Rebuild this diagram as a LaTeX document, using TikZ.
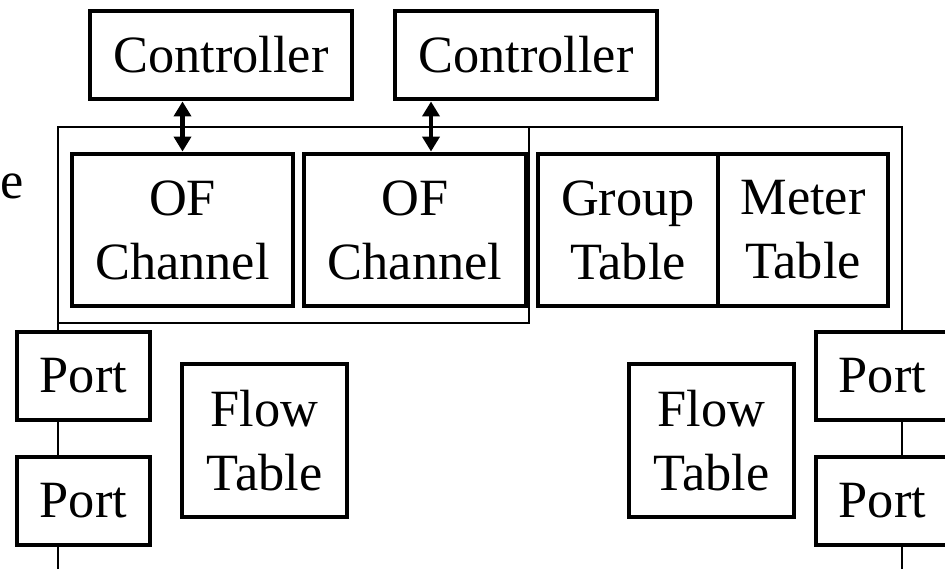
\documentclass[tikz,border=0pt]{standalone}
\usepackage{fontspec}
\setmainfont{Liberation Serif}
\usetikzlibrary{calc, arrows.meta}
\tikzset{unit/.style={draw, line width=2.8pt, fill=white, align=center, inner sep=0pt, font=\fontsize{29.8}{36.4}\selectfont},
frame/.style={line width=0.7pt},
link/.style={{Triangle[width=0.34cm,length=0.3cm]}-{Triangle[width=0.34cm,length=0.3cm]}, line width=2.8pt}}

\begin{document}
\begin{tikzpicture}[x=0.02cm, y=-0.02cm]
        \useasboundingbox (0,0) rectangle (945,569);
        % switch outline
        \draw[frame] (58,569) -- (58,127) -- (902,127) -- (902,569);
        \draw[frame] (58,127) rectangle (529,323);
        \node[anchor=base west, inner sep=0pt, font=\fontsize{29.8}{36.4}\selectfont] (sw) at (0,198) {e};
        % controllers
        \node[unit, minimum width=5.24cm, minimum height=1.76cm] (ctrl1) at (221,55) {Controller};
        \node[unit, minimum width=5.24cm, minimum height=1.76cm] (ctrl2) at (526,55) {Controller};
        % channels and tables
        \node[unit, minimum width=4.42cm, minimum height=3.04cm] (of1) at (182.5,230) {OF\\Channel};
        \node[unit, minimum width=4.44cm, minimum height=3.04cm] (of2) at (415,230) {OF\\Channel};
        \node[unit, minimum width=3.6cm, minimum height=3.04cm] (grp) at (628,230) {Group\\Table};
        \node[unit, minimum width=3.4cm, minimum height=3.04cm] (mtr) at (803,230) {Meter\\Table};
        \node[unit, minimum width=3.3cm, minimum height=3.06cm] (flow1) at (264.5,440.5) {Flow\\Table};
        \node[unit, minimum width=3.3cm, minimum height=3.06cm] (flow2) at (711.5,440.5) {Flow\\Table};
        % ports
        \node[unit, minimum width=2.66cm, minimum height=1.76cm] (pl1) at (83.5,376) {Port};
        \node[unit, minimum width=2.66cm, minimum height=1.76cm] (pl2) at (83.5,501) {Port};
        \node[unit, minimum width=2.66cm, minimum height=1.76cm] (pr1) at (882.5,376) {Port};
        \node[unit, minimum width=2.66cm, minimum height=1.76cm] (pr2) at (882.5,501) {Port};
        % controller links
        \coordinate (a2) at ($(of2.north)+(16,0)$);
        \draw[link] (of1.north |- ctrl1.south) -- (of1.north);
        \draw[link] (a2 |- ctrl2.south) -- (a2);
\end{tikzpicture}
\end{document}
